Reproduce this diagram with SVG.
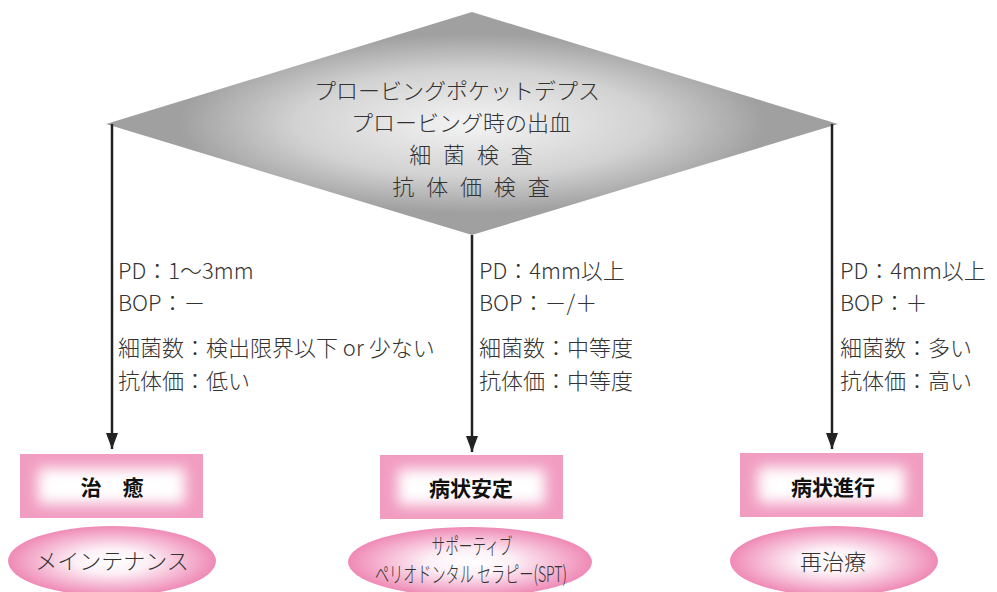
<svg xmlns="http://www.w3.org/2000/svg" width="997" height="592" viewBox="0 0 997 592">
<defs>
<radialGradient id="dg" cx="0.5" cy="0.5" r="0.4">
<stop offset="0" stop-color="#f4f4f4"/>
<stop offset="0.6" stop-color="#d2d2d2"/>
<stop offset="1" stop-color="#a0a0a0"/>
</radialGradient>
<radialGradient id="eg" cx="0.5" cy="0.5" r="0.5">
<stop offset="0" stop-color="#ffffff"/>
<stop offset="0.35" stop-color="#fdf0f6"/>
<stop offset="1" stop-color="#ef8ab6"/>
</radialGradient>
<filter id="blur" x="-30%" y="-60%" width="160%" height="220%">
<feGaussianBlur stdDeviation="7"/>
</filter>
<marker id="ah" markerUnits="userSpaceOnUse" markerWidth="16" markerHeight="12" refX="16" refY="6" orient="auto" viewBox="0 0 16 12">
<path d="M0,0 L16,6 L0,12 Z" fill="#222"/>
</marker>
<style>
.t{font-family:"Noto Sans CJK JP","Noto Sans",sans-serif;font-weight:300;fill:#333;font-size:22px}
.d{font-size:22px;text-anchor:middle}
.b{font-family:"Noto Sans CJK JP",sans-serif;font-weight:700;fill:#111;font-size:21px;text-anchor:middle}
.e{text-anchor:middle}
.box{fill:#f19cc1}
.inner{fill:#fff;filter:url(#blur)}
.ell{fill:url(#eg)}
.ln{stroke:#222;stroke-width:2.5;fill:none}
</style>
</defs>

<g id="diamond">
<polygon points="106,124 472,12 838,124 472,235" fill="url(#dg)"/>
<text class="t d" x="457" y="99">プロービングポケットデプス</text>
<text class="t d" x="461" y="131">プロービング時の出血</text>
<text class="t d" x="471" y="163" word-spacing="7">細 菌 検 査</text>
<text class="t d" x="471" y="195" word-spacing="7">抗 体 価 検 査</text>
</g>

<g id="connectors">
<path class="ln" d="M112,124 V449" marker-end="url(#ah)"/>
<path class="ln" d="M472,235 V452" marker-end="url(#ah)"/>
<path class="ln" d="M832,124 V449" marker-end="url(#ah)"/>
</g>

<g id="label-left">
<text class="t" x="118" y="279">PD：1〜3mm</text>
<text class="t" x="118" y="311">BOP：－</text>
<text class="t" x="118" y="356">細菌数：検出限界以下 or 少ない</text>
<text class="t" x="118" y="389">抗体価：低い</text>
</g>
<g id="label-mid">
<text class="t" x="479" y="279">PD：4mm以上</text>
<text class="t" x="479" y="311">BOP：－/＋</text>
<text class="t" x="479" y="356">細菌数：中等度</text>
<text class="t" x="479" y="389">抗体価：中等度</text>
</g>
<g id="label-right">
<text class="t" x="840" y="279">PD：4mm以上</text>
<text class="t" x="840" y="311">BOP：＋</text>
<text class="t" x="840" y="356">細菌数：多い</text>
<text class="t" x="840" y="389">抗体価：高い</text>
</g>

<g id="box-cure">
<rect class="box" x="20" y="454" width="183" height="64"/>
<rect class="inner" x="38" y="468" width="147" height="36"/>
<text class="b" x="112" y="495">治　癒</text>
</g>
<g id="box-stable">
<rect class="box" x="380" y="455" width="183" height="64"/>
<rect class="inner" x="398" y="469" width="147" height="36"/>
<text class="b" x="471" y="496">病状安定</text>
</g>
<g id="box-progress">
<rect class="box" x="740" y="453" width="183" height="64"/>
<rect class="inner" x="758" y="467" width="147" height="36"/>
<text class="b" x="833" y="495">病状進行</text>
</g>

<g id="ell-maint">
<ellipse class="ell" cx="112" cy="561" rx="104" ry="35"/>
<text class="t e" x="112" y="569">メインテナンス</text>
</g>
<g id="ell-spt">
<ellipse class="ell" cx="470" cy="562" rx="122" ry="35"/>
<text class="t e" x="472" y="554" font-size="17" textLength="81" lengthAdjust="spacingAndGlyphs">サポーティブ</text>
<text class="t e" x="471" y="582" font-size="17" textLength="192" lengthAdjust="spacingAndGlyphs">ペリオドンタル セラピー(SPT)</text>
</g>
<g id="ell-retreat">
<ellipse class="ell" cx="834" cy="561" rx="104" ry="35"/>
<text class="t e" x="833" y="570">再治療</text>
</g>
</svg>
